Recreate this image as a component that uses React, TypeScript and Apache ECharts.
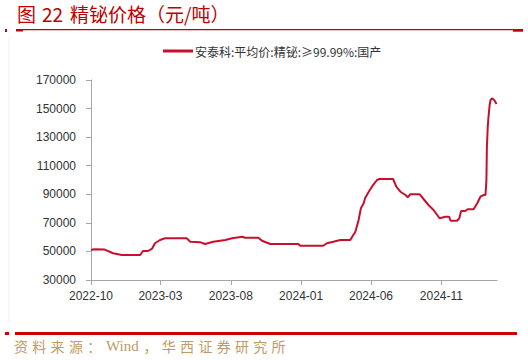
import React, { useEffect, useRef } from "react";
import * as echarts from "echarts";

const titleParts = ["图", "22", "精铋价格（元/吨）"];
const sourceText = "资料来源：Wind，华西证券研究所";
const seriesName = "安泰科:平均价:精铋:≥99.99%:国产";

const startDate = "2022-10-01";
const endDate = "2025-03-02";
const tickMonths = ["2022-10", "2023-03", "2023-08", "2024-01", "2024-06", "2024-11"];

const dates = [
  "2022-10-01", "2022-10-08", "2022-10-31", "2022-11-18", "2022-12-07", "2023-01-16",
  "2023-01-22", "2023-02-02", "2023-02-11", "2023-02-17", "2023-02-28", "2023-03-11",
  "2023-04-27", "2023-05-05", "2023-05-26", "2023-06-06", "2023-06-24", "2023-07-20",
  "2023-08-04", "2023-08-26", "2023-09-01", "2023-09-30", "2023-10-08", "2023-10-26",
  "2023-12-26", "2023-12-30", "2024-02-18", "2024-02-26", "2024-03-11", "2024-03-26",
  "2024-04-17", "2024-04-21", "2024-04-28", "2024-05-05", "2024-05-10", "2024-05-16",
  "2024-05-19", "2024-05-27", "2024-06-03", "2024-06-14", "2024-06-19", "2024-07-19",
  "2024-07-26", "2024-08-04", "2024-08-15", "2024-08-20", "2024-08-25", "2024-09-15",
  "2024-09-25", "2024-10-04", "2024-10-15", "2024-10-23", "2024-10-28", "2024-11-10",
  "2024-11-18", "2024-11-21", "2024-12-05", "2024-12-10", "2024-12-14", "2024-12-23",
  "2024-12-28", "2025-01-10", "2025-01-18", "2025-01-25", "2025-02-01", "2025-02-05",
  "2025-02-07", "2025-02-08", "2025-02-10", "2025-02-12", "2025-02-14", "2025-02-16",
  "2025-02-19", "2025-02-24", "2025-03-01",
];

const prices = [
  51000, 51500, 51300, 48700, 47500, 47500,
  50300, 50300, 52000, 55700, 58000, 59200,
  59200, 56800, 56500, 55200, 56800, 58000,
  59200, 60300, 59600, 59600, 57500, 55200,
  55200, 54000, 54000, 55700, 56800, 58000,
  58000, 60300, 63800, 72000, 80200, 83700,
  87200, 91800, 95300, 100000, 100700, 100700,
  95300, 91800, 89500, 87900, 90000, 90000,
  86000, 82500, 79000, 75500, 73200, 74300,
  74300, 71500, 71500, 73200, 78300, 78300,
  79500, 79500, 83700, 88300, 89500, 89500,
  100000, 123300, 138000, 146000, 152500, 156000,
  157200, 156000, 153200,
];

const yMin = 30000;
const yMax = 170000;
const yStep = 20000;

const DAY = 86400000;
function utc(s: string): number {
  const [y, m, d] = s.split("-").map(Number);
  return Date.UTC(y, m - 1, d || 1);
}
function dayIndex(s: string): number {
  return Math.round((utc(s) - utc(startDate)) / DAY);
}
function dayLabel(v: number): string {
  const dt = new Date(utc(startDate) + Math.round(v) * DAY);
  const mm = String(dt.getUTCMonth() + 1).padStart(2, "0");
  return dt.getUTCFullYear() + "-" + mm;
}

function spacedRich(text: string): string {
  // CJK characters in fixed-width boxes; latin runs kept together
  const parts = text.match(/[A-Za-z0-9]+|[^A-Za-z0-9]/g) || [];
  return parts.map((p) => (/^[A-Za-z0-9]+$/.test(p) ? `{w|${p}}` : `{c|${p}}`)).join("");
}

export default function App() {
  const ref = useRef<HTMLDivElement>(null);
  useEffect(() => {
    if (!ref.current) return;
    const chart = echarts.init(ref.current, null, { renderer: "svg" });
    const tickVals = tickMonths.map((m) => dayIndex(m + "-01"));
    const data = dates.map((d, i) => [dayIndex(d), prices[i]]);
    const axisColor = "#a6a6a6";
    const textColor = "#333333";
    const red = "#c00000";
    const titleFont = "'Noto Sans CJK SC', serif";
    chart.setOption({
      animation: false,
      backgroundColor: "#ffffff",
      textStyle: { fontFamily: "'Noto Sans CJK SC', sans-serif" },
      grid: { left: 91, right: 31, top: 80, bottom: 80, containLabel: false },
      legend: {
        show: true,
        left: 163,
        top: 45,
        padding: 0,
        icon: "rect",
        itemWidth: 30,
        itemHeight: 3,
        itemGap: 10,
        textStyle: { fontSize: 12, color: textColor, fontFamily: "'Noto Sans CJK SC', sans-serif", padding: [0, 0, 0, -3] },
        data: [seriesName],
      },
      xAxis: {
        type: "value",
        min: 0,
        max: dayIndex(endDate),
        axisLine: { show: true, lineStyle: { color: axisColor, width: 1 } },
        axisTick: { show: true, length: 5, lineStyle: { color: axisColor }, customValues: tickVals },
        splitLine: { show: false },
        axisLabel: {
          customValues: tickVals,
          color: textColor,
          fontSize: 12,
          margin: 10,
          fontFamily: "Arial, 'Liberation Sans', sans-serif",
          formatter: (v: number) => dayLabel(v),
        },
      },
      yAxis: {
        type: "value",
        min: yMin,
        max: yMax,
        interval: yStep,
        axisLine: { show: true, lineStyle: { color: axisColor, width: 1 } },
        axisTick: { show: true, length: 5, lineStyle: { color: axisColor } },
        splitLine: { show: false },
        axisLabel: {
          color: textColor,
          fontSize: 12,
          margin: 15,
          fontFamily: "Arial, 'Liberation Sans', sans-serif",
          formatter: (v: number) => String(v),
        },
      },
      series: [
        {
          name: seriesName,
          type: "line",
          data,
          showSymbol: false,
          symbol: "none",
          lineStyle: { color: "#c8102e", width: 2 },
          itemStyle: { color: "#c8102e" },
        },
      ],
      graphic: [
        { type: "text", left: 17, top: 4, style: { text: titleParts[0], fontSize: 19, fill: red, fontFamily: titleFont } },
        { type: "text", left: 42, top: 4, style: { text: titleParts[1], fontSize: 19, fill: red, fontFamily: titleFont } },
        { type: "text", left: 70, top: 4, style: { text: titleParts[2], fontSize: 19, fill: red, fontFamily: titleFont } },
        { type: "rect", shape: { x: 5, y: 29, width: 2, height: 3 }, style: { fill: red } },
        { type: "rect", shape: { x: 16, y: 29, width: 7, height: 2.5 }, style: { fill: red } },
        { type: "line", shape: { x1: 16, y1: 29.7, x2: 514, y2: 29.7 }, style: { stroke: red, lineWidth: 1.2 } },
        { type: "rect", shape: { x: 513, y: 29, width: 10, height: 2.7 }, style: { fill: red } },
        { type: "line", shape: { x1: 9, y1: 38, x2: 9, y2: 323 }, style: { stroke: "#f0f0f0", lineWidth: 1 } },
        { type: "rect", shape: { x: 5, y: 332, width: 4, height: 3 }, style: { fill: "#d00000" } },
        { type: "rect", shape: { x: 15, y: 332, width: 502, height: 3 }, style: { fill: "#d00000" } },
        {
          type: "text",
          left: 14,
          top: 338,
          style: {
            text: spacedRich(sourceText),
            fontSize: 14,
            fill: "#bf9b63",
            fontFamily: titleFont,
            rich: {
              c: { width: 18.3, align: "center", fontSize: 14, fill: "#bf9b63", fontFamily: titleFont },
              w: { width: 38, align: "center", fontSize: 15, fill: "#bf9b63", fontFamily: "'Liberation Serif', serif" },
            },
          },
        },
      ],
    });
    return () => chart.dispose();
  }, []);
  return (
    <div
      ref={ref}
      style={{ position: "fixed", left: 0, top: 0, width: 528, height: 360 }}
    />
  );
}
